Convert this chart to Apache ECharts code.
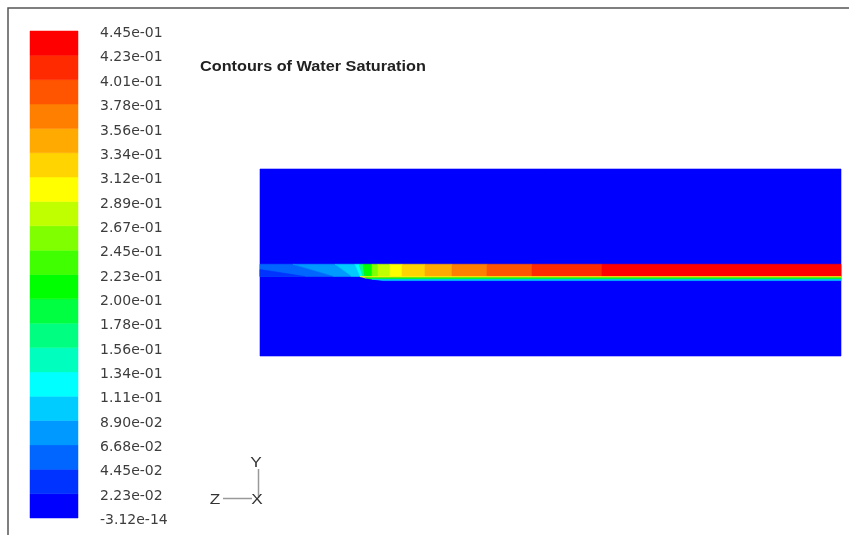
<!DOCTYPE html>
<html><head><meta charset="utf-8">
<script src="https://cdn.jsdelivr.net/npm/echarts@6/dist/echarts.min.js"></script>
<style>html,body{margin:0;padding:0;background:#fff}#c{width:849px;height:535px}</style>
</head><body><div id="c"></div>
<script>
// Legend tick labels, top to bottom
const tickLabels = ['4.45e-01','4.23e-01','4.01e-01','3.78e-01','3.56e-01','3.34e-01','3.12e-01','2.89e-01','2.67e-01','2.45e-01','2.23e-01','2.00e-01','1.78e-01','1.56e-01','1.34e-01','1.11e-01','8.90e-02','6.68e-02','4.45e-02','2.23e-02','-3.12e-14'];
// Contour level colours, bottom (lowest) to top (highest)
const levelColors = ['#0000ff','#0033ff','#0066ff','#0099ff','#00ccff','#00ffff','#00ffbf','#00ff80','#00ff40','#00ff00','#40ff00','#80ff00','#bfff00','#ffff00','#ffd400','#ffaa00','#ff7f00','#ff5500','#ff2a00','#ff0000'];

// Domain (length x height) and the background saturation
const domainX = [0, 100];
const domainY = [0, 32];
const backgroundValue = 0.011;

// Saturated layer: segment edges at its top and bottom, and segment values
const bandTopY = 15.70;
const bandBottomY = 13.60;
const bandTopEdges    = [0, 5.68, 12.91, 16.35, 17.04, 17.73, 19.28, 20.31, 22.38, 24.44, 28.40, 33.05, 39.07, 46.82, 58.86, 100];
const bandBottomEdges = [0, 12.91, 15.83, 17.21, 17.73, 18.07, 19.28, 20.31, 22.38, 24.44, 28.40, 33.05, 39.07, 46.82, 58.86, 100];
const bandValues = [0.056, 0.078, 0.100, 0.122, 0.167, 0.211, 0.256, 0.278, 0.300, 0.323, 0.345, 0.367, 0.390, 0.412, 0.434];

// Lower-left corner of the layer
const cornerPatch = [[0, 14.80], [7.75, 13.60], [0, 13.60]];
const cornerValue = 0.033;

// Thin transition strips under the layer
const stripTopY = [13.60, 13.37, 13.15];
const stripBottomY = [13.37, 13.15, 12.91];
const stripStartTop = [17.21, 18.07, 19.28];
const stripStartBottom = [18.07, 19.28, 21.17];
const stripValues = [0.300, 0.211, 0.100];

// ---- build ----
const levels = tickLabels.map(parseFloat).reverse(); // bottom to top
const pieces = [];
for (let i = 0; i < levelColors.length; i++) {
  const p = { gte: levels[i], color: levelColors[i] };
  if (i < levelColors.length - 1) p.lt = levels[i + 1]; else p.lte = levels[i + 1] + 1;
  pieces.push(p);
}
const legendData = levelColors.map((c, i) => [(levels[i] + levels[i + 1]) / 2, i]);

const shapes = [];
const shapeValues = [];
shapes.push([[domainX[0], domainY[0]], [domainX[1], domainY[0]], [domainX[1], domainY[1]], [domainX[0], domainY[1]]]);
shapeValues.push(backgroundValue);
for (let i = 0; i < bandValues.length; i++) {
  shapes.push([[bandTopEdges[i], bandTopY], [bandTopEdges[i + 1], bandTopY], [bandBottomEdges[i + 1], bandBottomY], [bandBottomEdges[i], bandBottomY]]);
  shapeValues.push(bandValues[i]);
}
shapes.push(cornerPatch);
shapeValues.push(cornerValue);
for (let i = 0; i < stripValues.length; i++) {
  shapes.push([[stripStartTop[i], stripTopY[i]], [domainX[1], stripTopY[i]], [domainX[1], stripBottomY[i]], [stripStartBottom[i], stripBottomY[i]]]);
  shapeValues.push(stripValues[i]);
}
const contourData = shapeValues.map((v, i) => [v, i]);

const chart = echarts.init(document.getElementById('c'), null, { renderer: 'canvas' });
const labelFont = 'DejaVu Sans, Liberation Sans, Arial, sans-serif';
chart.setOption({
  animation: false,
  backgroundColor: '#ffffff',
  visualMap: { type: 'piecewise', show: false, dimension: 0, seriesIndex: [0, 1], pieces: pieces },
  grid: [
    { left: 30, top: 31, width: 48, height: 487 },
    { left: 260, top: 169, width: 581, height: 187 }
  ],
  xAxis: [
    { gridIndex: 0, type: 'value', min: 0, max: 1, show: false },
    { gridIndex: 1, type: 'value', min: domainX[0], max: domainX[1], show: false }
  ],
  yAxis: [
    { gridIndex: 0, type: 'value', min: 0, max: 20, interval: 1, position: 'right',
      axisLine: { show: false }, axisTick: { show: false }, splitLine: { show: false },
      axisLabel: { margin: 22, fontFamily: labelFont, fontSize: 14, color: '#3d3d3d',
        verticalAlign: 'top', lineHeight: 5,
        formatter: v => tickLabels[20 - v] } },
    { gridIndex: 1, type: 'value', min: domainY[0], max: domainY[1], show: false }
  ],
  series: [
    { type: 'custom', xAxisIndex: 0, yAxisIndex: 0, data: legendData, silent: true,
      encode: { x: -1, y: 1 },
      renderItem: (params, api) => {
        const i = api.value(1);
        const a = api.coord([0, i + 1]);
        const b = api.coord([1, i]);
        const c = api.visual('color');
        return { type: 'rect', shape: { x: a[0], y: a[1], width: b[0] - a[0], height: b[1] - a[1] },
          style: { fill: c, stroke: c, lineWidth: 0.5 } };
      } },
    { type: 'custom', xAxisIndex: 1, yAxisIndex: 1, data: contourData, silent: true,
      encode: { x: -1, y: -1 },
      renderItem: (params, api) => {
        const idx = api.value(1);
        const pts = shapes[idx].map(p => api.coord(p));
        const c = api.visual('color');
        return { type: 'polygon', shape: { points: pts }, style: { fill: c, stroke: c, lineWidth: 0.6 } };
      } }
  ],
  graphic: [
    { type: 'polyline', shape: { points: [[8, 535], [8, 8], [849, 8]] }, style: { stroke: '#555', lineWidth: 1.5, fill: null } },
    { type: 'text', x: 200, y: 67, scaleX: 1.16,
      style: { text: 'Contours of Water Saturation', font: 'bold 14px Liberation Sans, Arial, sans-serif', fill: '#222', textVerticalAlign: 'middle' } },
    { type: 'line', shape: { x1: 258.5, y1: 469, x2: 258.5, y2: 498 }, style: { stroke: '#999', lineWidth: 1.5 } },
    { type: 'line', shape: { x1: 223, y1: 498.5, x2: 252, y2: 498.5 }, style: { stroke: '#999', lineWidth: 1.5 } },
    { type: 'text', x: 256, y: 463, scaleX: 1.15, style: { text: 'Y', font: '15px Liberation Sans, Arial, sans-serif', fill: '#333', textAlign: 'center', textVerticalAlign: 'middle' } },
    { type: 'text', x: 215, y: 500, scaleX: 1.15, style: { text: 'Z', font: '15px Liberation Sans, Arial, sans-serif', fill: '#333', textAlign: 'center', textVerticalAlign: 'middle' } },
    { type: 'text', x: 257, y: 500, scaleX: 1.15, style: { text: 'X', font: '15px Liberation Sans, Arial, sans-serif', fill: '#333', textAlign: 'center', textVerticalAlign: 'middle' } }
  ]
});
</script>
</body></html>
